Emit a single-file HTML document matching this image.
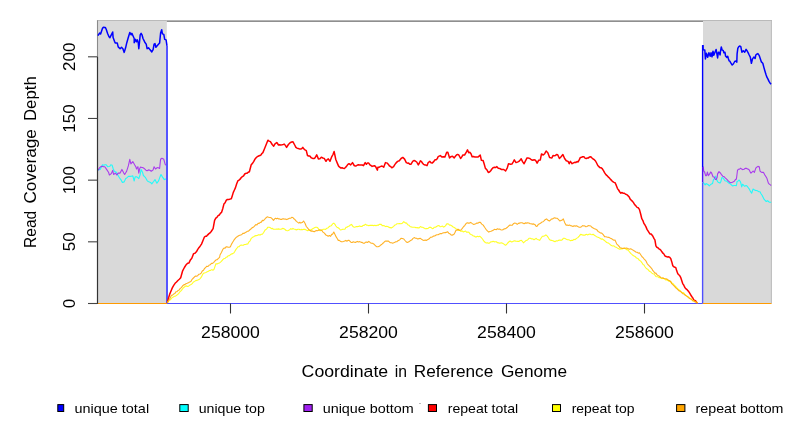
<!DOCTYPE html>
<html><head><meta charset="utf-8"><style>
html,body{margin:0;padding:0;background:#fff;}
svg{display:block;will-change:transform;}
text{font-family:"Liberation Sans",sans-serif;fill:#000;}
</style></head><body>
<svg width="792" height="432" viewBox="0 0 792 432">
<rect width="792" height="432" fill="#fff"/>
<rect x="97.5" y="20.3" width="69.3" height="283.2" fill="#d9d9d9"/>
<rect x="703" y="20.3" width="68.5" height="283.2" fill="#d9d9d9"/>
<rect x="166.8" y="20.4" width="536.2" height="1.5" fill="#838383"/>
<rect x="97.5" y="20" width="69.3" height="0.9" fill="#b5b5b5"/>
<rect x="703" y="20" width="68.8" height="0.9" fill="#b5b5b5"/>
<rect x="770.9" y="20" width="0.9" height="283.5" fill="#b5b5b5"/>
<line x1="97.5" y1="20.2" x2="97.5" y2="56.80" stroke="#8a8a8a" stroke-width="1.1"/>
<polyline points="97.9,169.9 99.1,169.6 100.2,169.4 101.3,167.2 102.5,164.8 103.7,165.2 105.0,164.8 106.2,164.8 107.6,166.7 108.8,166.5 109.9,166.2 110.8,164.8 112.2,165.3 113.1,168.5 114.5,171.8 115.9,171.8 117.3,174.1 118.7,176.5 120.1,178.7 121.2,180.2 122.4,182.4 124.2,181.9 125.6,178.7 127.0,177.6 128.4,176.4 130.0,176.4 131.4,176.3 132.8,175.9 134.2,181.0 135.1,176.9 136.9,176.9 138.8,178.7 140.2,174.5 141.1,169.4 142.5,172.2 143.4,175.5 145.3,177.3 147.1,180.6 148.2,181.5 149.4,181.9 150.6,182.4 151.8,183.8 153.6,181.5 155.0,179.6 156.9,183.3 158.7,180.6 159.8,177.4 161.0,174.5 162.4,176.9 164.3,179.6 165.3,179.0 166.3,179.2" fill="none" stroke="#00ffff" stroke-width="1.1" stroke-opacity="0.85" stroke-linejoin="round"/>
<polyline points="703.2,182.2 705.1,185.0 706.0,183.6 707.9,184.5 709.3,185.9 710.6,184.5 712.5,183.6 713.4,179.9 714.4,178.5 715.7,176.2 716.7,179.9 718.1,182.2 719.9,183.1 720.8,181.8 721.8,177.6 723.1,178.1 725.0,180.8 726.9,181.3 728.7,183.1 730.6,184.1 732.4,185.9 734.3,185.5 735.3,185.5 736.4,185.6 737.1,181.4 738.2,180.9 739.2,180.0 740.6,182.1 741.7,186.9 742.6,184.2 743.7,185.4 744.7,186.3 746.1,185.6 747.2,186.2 748.2,187.6 749.2,188.9 750.3,191.1 751.7,193.2 753.1,189.0 754.1,189.6 755.1,190.4 756.5,190.5 757.9,191.1 759.0,191.8 760.0,191.8 761.0,193.7 762.1,195.3 763.2,197.5 764.2,199.4 765.2,200.5 766.3,201.5 767.6,200.8 768.7,201.7 769.7,202.2 771.2,202.2" fill="none" stroke="#00ffff" stroke-width="1.1" stroke-opacity="0.85" stroke-linejoin="round"/>
<polyline points="97.9,170.4 99.7,167.6 100.8,166.7 102.0,166.2 103.4,166.6 104.8,166.7 106.6,169.4 108.5,172.2 109.4,175.0 111.3,173.6 112.7,170.4 113.6,174.5 115.4,173.1 116.8,175.0 118.2,173.1 120.1,173.1 121.9,169.4 123.8,173.1 124.7,174.5 126.6,171.3 128.4,165.7 129.8,159.3 130.9,163.9 132.8,161.6 134.6,164.8 136.0,167.1 136.5,169.0 137.9,166.7 138.8,173.1 139.7,168.5 140.6,167.1 141.8,167.5 143.0,167.6 144.8,169.0 145.9,170.2 147.1,170.8 148.5,169.9 149.9,170.3 151.3,171.3 153.1,169.9 154.1,166.7 155.5,169.0 156.7,168.0 157.8,167.6 159.6,168.5 160.6,159.3 161.9,158.3 163.8,159.3 165.2,164.4 166.3,165.3" fill="none" stroke="#a020f0" stroke-width="1.1" stroke-opacity="0.85" stroke-linejoin="round"/>
<polyline points="703.2,166.5 703.7,171.1 704.6,172.0 705.6,175.7 706.5,175.7 707.4,172.0 708.3,175.7 709.7,173.9 710.6,172.0 711.6,173.0 713.0,176.7 714.4,177.1 715.3,179.4 716.2,179.4 717.1,177.6 717.6,173.9 719.0,171.6 720.4,173.0 721.3,174.4 722.7,176.2 724.1,176.7 725.5,178.1 726.9,179.4 728.2,180.8 729.6,182.2 731.0,182.7 732.4,182.2 734.3,181.3 735.6,179.4 736.4,179.3 737.5,170.3 738.5,169.2 739.6,169.1 740.6,168.2 741.6,169.1 742.6,169.6 744.0,169.3 745.4,168.2 746.6,168.4 747.7,168.9 748.9,169.6 750.0,171.6 751.0,173.1 752.0,172.2 753.1,171.0 754.4,172.4 755.8,168.2 756.8,167.1 757.9,166.4 759.3,166.8 760.0,171.0 761.0,171.9 762.1,172.4 763.5,172.4 764.9,175.1 766.0,176.7 767.0,178.6 768.3,182.8 769.3,184.1 770.4,184.9 771.2,185.5" fill="none" stroke="#a020f0" stroke-width="1.1" stroke-opacity="0.85" stroke-linejoin="round"/>
<line x1="167" y1="303.5" x2="702.8" y2="303.5" stroke="#5050ff" stroke-width="1.2"/>
<polyline points="97.9,35.7 99.7,33.0 100.6,33.9 102.5,28.3 103.4,27.2 105.3,27.4 106.2,29.3 107.6,33.5 109.0,36.7 109.9,37.6 111.3,34.8 112.7,32.0 113.1,37.6 114.5,41.3 115.4,43.1 117.3,43.1 118.2,46.9 120.1,48.7 121.5,47.3 122.9,48.7 124.2,52.4 125.6,47.8 126.8,42.7 128.0,38.5 129.8,32.5 131.2,34.8 131.9,33.4 133.2,36.2 134.2,38.5 134.2,42.7 135.6,39.4 136.5,41.8 137.4,39.9 138.3,43.1 138.8,48.7 139.3,44.1 140.2,34.8 141.1,33.4 142.0,34.8 143.0,38.5 144.8,42.2 146.2,44.1 147.1,48.7 148.5,47.8 149.9,49.6 151.8,51.9 153.1,49.6 154.1,44.1 155.0,43.6 155.9,47.3 157.8,45.0 159.6,43.1 160.6,33.0 161.7,29.7 162.4,33.9 163.8,34.4 164.7,39.4 166.1,39.9 167.0,45.9" fill="none" stroke="#0000ff" stroke-width="1.5" stroke-linejoin="round"/>
<line x1="167" y1="45.9" x2="167" y2="303.5" stroke="#5555ff" stroke-width="2"/>
<polyline points="703.0,45.1 703.1,49.7 704.8,50.0 705.4,58.9 706.4,53.3 707.7,57.3 708.9,52.8 710.2,56.3 711.0,52.8 712.0,56.8 713.0,51.2 713.8,55.3 714.8,52.8 716.1,49.4 717.6,57.9 718.4,52.2 719.0,52.2 720.1,54.9 720.4,51.8 721.3,46.9 722.2,50.1 723.2,50.4 723.9,52.8 724.9,52.2 725.6,56.0 726.7,57.4 727.7,56.3 728.4,58.8 729.1,60.8 729.8,61.2 730.8,62.9 732.2,65.0 733.3,64.0 734.7,61.5 736.1,60.8 736.8,62.2 737.1,53.9 737.8,48.3 738.8,46.6 739.9,46.0 740.8,46.7 741.9,52.2 743.3,50.8 744.7,52.2 746.1,49.4 747.2,51.0 748.2,52.9 749.2,55.0 750.3,57.1 751.4,63.3 752.4,59.2 753.8,57.1 755.1,58.5 755.8,55.0 756.8,54.2 757.9,53.6 759.3,55.7 760.3,58.7 761.4,61.9 762.8,63.3 763.8,67.1 764.9,71.0 765.9,74.3 766.9,77.2 768.0,79.1 769.0,81.4 770.0,82.9 771.1,84.2" fill="none" stroke="#0000ff" stroke-width="1.5" stroke-linejoin="round"/>
<line x1="702.6" y1="45.1" x2="702.6" y2="167" stroke="#0000ff" stroke-width="1.4"/>
<line x1="702.6" y1="167" x2="702.6" y2="182.5" stroke="#4a10f8" stroke-width="1.4"/>
<line x1="702.6" y1="182.5" x2="702.6" y2="303.5" stroke="#4f4fff" stroke-width="1.4"/>
<polyline points="167.3,302.7 168.4,298.2 169.6,294.4 170.9,291.2 172.3,287.9 173.7,285.4 175.1,283.3 176.5,282.0 177.9,280.5 179.3,279.3 180.7,277.7 182.5,271.2 184.4,267.5 186.2,264.7 187.6,263.2 189.0,262.9 190.4,259.9 191.8,258.3 193.6,253.6 195.0,253.2 196.4,251.8 197.6,249.6 198.9,247.7 200.1,246.2 201.5,244.1 202.9,240.7 204.4,237.0 205.4,236.3 206.5,236.2 207.5,235.1 208.7,233.9 210.0,232.9 211.2,231.5 213.1,228.6 214.6,220.3 215.8,218.2 216.9,217.4 218.1,215.6 219.3,215.0 220.4,213.4 221.6,212.2 222.8,208.5 223.9,204.1 225.1,202.8 226.2,200.4 227.4,199.4 228.7,199.6 230.0,199.1 231.3,198.8 232.3,195.7 233.3,192.4 234.3,190.2 235.5,187.6 236.6,184.0 237.8,180.9 239.0,180.1 240.1,179.2 241.3,177.5 242.4,176.6 243.6,175.8 244.7,174.0 245.9,173.3 247.1,173.3 248.2,172.2 249.4,171.7 251.2,164.7 252.5,163.4 253.8,161.4 255.1,158.9 256.3,157.5 257.4,156.7 258.6,156.0 259.8,155.5 260.8,155.2 261.9,153.5 262.9,152.6 264.6,148.5 266.4,143.9 267.9,140.2 269.1,141.1 270.4,141.6 272.2,144.5 273.7,146.2 275.0,143.9 276.8,142.5 278.5,145.0 279.6,144.7 280.8,145.0 282.0,144.8 283.1,144.5 284.3,144.1 285.5,145.6 286.6,147.4 288.4,144.5 290.1,142.7 291.6,142.0 293.0,141.8 294.7,145.0 295.9,147.4 297.0,148.1 298.2,148.5 299.4,148.9 300.5,149.1 301.6,148.8 302.8,147.4 304.6,149.7 306.3,150.6 307.5,155.5 308.6,156.0 309.8,156.0 311.2,157.8 312.7,158.4 313.9,158.6 315.0,157.8 316.7,154.9 318.4,158.9 319.9,158.7 321.3,157.2 322.8,158.0 324.2,158.4 326.0,161.3 327.1,159.6 328.3,158.9 330.0,161.3 331.8,156.6 333.0,154.5 334.1,151.4 335.8,159.5 337.5,163.6 338.6,166.1 339.7,167.2 340.9,168.1 342.1,167.8 343.2,168.2 344.4,168.4 345.5,167.5 346.7,166.0 347.9,164.4 349.0,163.7 350.7,164.9 352.5,162.6 354.2,165.5 355.4,166.1 356.5,165.7 358.3,164.7 359.7,164.9 361.1,164.9 362.3,165.0 363.5,165.7 365.2,162.6 366.4,164.3 367.5,163.1 368.7,163.1 369.9,164.8 371.0,165.5 372.1,166.4 373.3,166.0 374.5,165.7 375.6,166.6 377.4,170.1 377.9,167.2 379.0,167.3 380.2,166.6 382.0,166.0 383.7,167.2 385.5,162.6 387.2,163.1 388.4,164.4 389.5,166.0 390.6,166.4 391.8,167.8 393.6,166.6 394.8,164.6 395.9,163.1 397.6,161.4 399.3,160.8 401.1,158.5 402.8,157.4 404.6,159.1 406.3,162.6 407.5,163.2 408.6,163.1 409.8,164.2 410.9,164.3 412.7,161.4 413.9,160.5 415.0,160.8 416.7,162.0 418.3,164.9 419.4,163.0 420.4,160.8 421.4,161.3 422.4,163.1 423.5,164.3 424.7,164.9 425.9,165.1 427.0,165.7 428.2,162.6 429.9,161.4 431.0,162.8 432.2,163.1 433.9,161.4 435.1,159.7 436.2,159.8 437.4,158.5 438.0,156.8 439.1,156.2 440.3,155.6 441.8,156.9 443.2,156.8 444.9,157.1 446.7,152.2 447.8,152.2 449.6,157.9 450.7,156.8 452.5,156.2 454.2,157.9 455.4,156.2 456.5,155.0 457.6,154.4 458.8,155.0 460.6,158.5 461.8,156.9 462.9,155.0 464.6,155.0 466.3,152.2 467.5,149.8 468.7,152.7 469.8,152.2 471.0,153.8 472.1,156.8 473.6,156.5 475.0,157.1 476.4,157.0 477.9,157.1 479.0,156.2 480.2,155.0 481.4,160.3 483.1,160.6 484.2,164.0 485.4,168.4 486.9,169.8 488.3,172.4 489.5,172.1 490.7,170.7 491.9,169.0 493.0,167.8 494.7,167.2 495.8,167.5 496.9,166.6 498.0,168.1 499.2,168.4 500.4,168.8 501.5,169.5 502.6,169.4 503.8,169.5 505.6,171.0 507.3,167.8 508.5,163.7 509.6,163.9 510.8,164.2 511.9,164.1 513.1,162.1 514.3,159.9 516.0,162.6 517.5,162.1 518.9,161.4 520.0,160.3 521.2,158.8 522.7,161.9 524.1,163.7 525.5,160.8 527.0,157.9 528.5,158.1 529.9,158.5 531.3,159.7 532.8,160.3 534.0,159.7 535.1,159.9 536.1,161.2 537.1,163.1 538.6,160.3 540.3,159.9 541.5,153.9 543.2,155.0 544.7,153.7 546.1,151.0 547.8,152.7 549.6,157.4 550.8,157.7 551.9,157.9 553.0,155.6 554.1,155.7 555.3,155.6 556.5,154.5 557.7,154.8 559.4,158.5 561.1,156.8 562.9,154.5 564.6,158.5 566.3,160.8 568.1,161.4 569.2,163.7 570.4,161.4 572.1,163.7 574.0,162.6 575.0,162.3 576.0,162.4 577.1,161.5 578.1,162.0 579.2,159.9 580.4,157.4 581.5,157.2 582.7,156.7 583.9,156.7 585.0,158.1 586.2,158.5 587.4,158.0 588.5,157.9 589.6,156.9 590.8,156.7 592.0,158.0 593.1,159.0 594.3,159.7 595.5,161.0 596.6,163.0 597.8,165.5 598.9,166.6 600.1,167.8 601.2,167.7 602.4,168.9 603.6,170.8 604.7,172.9 605.9,174.7 607.0,175.6 608.2,176.9 609.4,178.0 610.5,179.4 611.6,180.4 612.8,181.7 614.0,182.4 615.1,182.8 616.3,185.4 617.5,188.6 618.6,190.0 619.8,192.0 620.9,193.2 622.1,192.5 623.2,193.3 624.4,193.2 625.6,194.3 626.7,194.5 627.9,195.6 629.0,196.7 630.2,199.1 631.3,200.2 632.5,201.4 633.6,202.8 634.8,204.8 635.9,205.9 637.1,207.4 638.2,207.7 639.4,209.4 640.6,213.8 641.8,218.7 642.9,220.6 643.9,223.4 645.0,225.0 646.0,226.9 647.0,229.4 648.0,230.9 649.9,233.9 650.9,233.9 651.9,234.9 652.9,236.3 653.9,238.4 654.9,239.9 655.9,245.8 656.9,247.3 657.9,247.7 658.9,248.8 659.9,249.4 660.9,250.3 661.9,251.8 662.9,253.2 663.9,254.0 664.9,255.8 666.2,256.6 667.5,256.9 668.8,256.8 669.8,257.4 670.8,258.8 671.8,261.9 672.8,265.7 673.8,266.8 674.8,267.2 675.8,267.7 676.8,271.1 677.8,273.7 678.8,274.8 679.8,275.8 680.8,277.7 682.7,283.6 683.7,285.0 684.7,287.3 685.7,288.6 686.7,289.3 687.7,290.4 688.7,291.6 689.7,293.1 690.7,294.8 691.7,296.5 692.7,297.7 693.7,299.8 694.7,300.5 695.7,301.0 696.7,302.5 697.5,303.2" fill="none" stroke="#ff0000" stroke-width="1.5" stroke-linejoin="round"/>
<polyline points="167.3,302.7 168.3,301.4 169.3,300.4 170.3,299.8 171.3,298.6 172.3,297.5 173.3,297.1 174.4,296.2 175.5,296.1 176.6,295.2 177.7,294.5 178.8,293.4 179.9,291.8 181.0,290.9 182.2,289.3 183.3,287.9 184.4,287.0 185.5,286.1 186.6,285.9 187.7,286.4 188.8,285.9 189.9,285.1 191.1,284.5 192.2,283.6 193.4,282.0 194.6,281.4 195.7,280.6 196.8,280.4 197.9,280.0 199.0,279.6 200.1,278.6 201.3,277.2 202.6,274.4 203.8,273.1 205.0,272.8 206.1,272.4 207.2,271.7 208.4,271.2 209.5,270.5 210.6,270.4 211.8,269.6 212.9,270.3 214.0,269.4 215.9,263.8 217.1,263.9 218.4,263.3 219.6,262.9 221.4,261.3 222.8,259.7 224.2,258.5 225.2,258.3 226.2,257.2 227.3,256.9 228.3,255.7 229.4,255.6 230.5,254.6 231.7,253.9 232.8,253.6 233.9,252.9 234.9,251.3 236.0,249.4 237.1,248.0 238.1,246.7 239.1,246.7 240.1,245.5 241.2,245.1 242.2,245.3 243.3,245.2 244.4,244.5 245.6,244.5 246.7,244.1 247.8,243.9 249.0,241.8 250.1,240.8 251.3,238.3 252.5,237.3 253.7,236.8 254.9,235.9 256.1,235.6 257.2,235.5 258.2,234.9 259.2,234.7 260.3,235.0 261.3,234.2 262.4,234.2 263.8,232.2 265.1,230.0 266.5,229.1 267.9,227.2 269.1,227.2 270.2,227.6 271.4,228.6 272.4,228.4 273.5,229.3 274.6,229.3 275.6,229.3 276.7,229.0 277.8,229.1 278.9,228.9 280.0,229.3 281.1,229.3 282.5,228.4 283.9,228.6 285.1,229.5 286.2,230.5 287.4,230.7 288.5,230.5 289.7,229.6 290.8,228.6 291.9,229.3 292.9,228.4 293.9,228.9 295.0,229.3 296.0,229.9 297.0,229.6 298.0,229.3 299.1,229.2 300.2,229.8 301.4,229.4 302.5,229.7 303.6,229.3 304.6,229.4 305.6,229.6 306.7,230.3 307.7,230.7 308.8,229.9 309.8,229.9 310.8,230.2 311.9,229.3 313.1,228.6 314.4,227.7 315.6,227.2 316.8,227.2 317.9,228.0 319.1,229.9 320.2,230.7 321.2,230.2 322.3,229.7 323.3,229.2 324.4,229.3 325.6,229.4 326.7,228.3 327.9,227.9 329.0,226.8 330.2,226.0 331.3,225.8 332.6,223.9 333.8,223.1 334.8,224.1 335.9,226.0 336.9,227.2 338.1,227.7 339.2,228.5 340.4,230.0 341.5,229.8 342.7,229.2 343.8,229.3 344.9,229.2 345.9,227.4 346.9,227.2 348.0,226.5 349.2,226.1 350.3,225.0 351.5,224.4 352.9,226.4 354.3,227.2 355.3,227.0 356.4,226.5 357.4,226.6 358.4,226.5 359.6,225.9 360.7,226.4 361.9,226.5 363.1,225.4 364.2,225.4 365.4,224.2 366.5,225.1 367.7,225.3 368.8,225.8 370.0,225.2 371.2,225.4 372.5,225.3 373.7,225.6 374.9,225.3 376.0,225.8 377.1,225.1 378.1,225.5 379.1,224.3 380.2,224.4 381.2,224.2 382.2,225.6 383.3,225.5 384.3,225.8 385.5,226.6 386.6,226.2 387.8,226.5 389.0,227.4 390.1,227.6 391.3,227.9 392.5,227.3 393.6,226.3 394.8,225.1 395.9,224.7 397.1,223.7 398.2,223.8 399.6,223.5 401.0,223.8 402.4,223.2 403.8,221.7 405.2,222.9 406.6,223.1 407.7,224.7 408.9,225.2 410.0,226.5 411.2,226.9 412.4,227.2 413.7,227.2 414.9,227.2 415.9,227.8 417.0,227.6 418.1,227.9 419.1,227.9 420.4,226.5 421.6,227.2 422.7,227.2 423.9,227.9 425.3,228.8 426.7,228.6 428.1,228.4 429.5,227.2 430.9,227.4 432.3,228.6 433.3,228.5 434.3,227.2 435.5,227.3 436.6,226.5 437.8,225.8 439.0,225.5 440.1,226.7 441.3,226.5 442.5,226.1 443.6,227.1 444.8,226.5 445.8,225.4 446.8,223.8 448.2,223.9 449.6,225.1 450.6,225.1 451.7,225.8 452.8,226.7 453.8,227.2 455.0,228.0 456.3,228.9 457.5,229.3 458.6,230.5 459.8,230.4 460.9,231.4 462.1,230.8 463.2,231.9 464.4,231.4 465.6,231.0 466.7,232.3 467.9,232.1 468.9,232.3 470.0,233.9 471.1,234.5 472.1,234.9 473.1,235.9 474.1,236.0 475.2,236.9 476.2,236.9 477.4,236.3 478.5,236.7 479.7,236.3 481.1,237.4 482.5,239.0 483.9,241.2 485.3,242.5 486.3,243.0 487.4,242.8 488.4,243.1 489.4,243.2 490.8,241.9 492.2,241.8 493.2,241.2 494.3,241.9 495.3,241.8 496.4,241.8 497.5,242.7 498.7,242.9 499.8,243.2 501.2,242.8 502.6,243.2 504.0,244.1 505.4,245.3 506.6,244.5 507.7,243.0 508.9,241.8 510.1,241.0 511.3,241.9 512.5,241.7 513.7,241.1 514.8,240.7 515.8,241.3 516.9,241.2 517.9,241.4 519.1,241.4 520.2,240.5 521.4,240.4 522.4,241.3 523.4,242.8 524.8,241.6 526.2,240.4 527.6,239.9 529.0,238.3 530.4,238.2 531.8,239.0 532.9,238.9 534.0,239.7 535.1,239.1 536.2,238.3 537.3,239.5 538.5,239.7 539.6,240.4 541.0,238.3 542.4,236.3 543.6,236.3 544.7,235.7 545.9,234.9 547.3,236.1 548.7,238.3 549.8,239.8 550.8,240.4 551.9,240.4 553.1,240.8 554.2,241.4 555.2,241.6 556.3,240.8 557.4,241.0 558.4,240.4 559.8,240.0 561.2,240.4 562.2,239.8 563.3,238.3 564.3,238.3 565.3,238.6 566.4,239.3 567.4,239.7 568.5,239.7 569.5,240.1 570.5,240.7 571.6,240.4 572.8,240.4 573.9,239.3 575.1,239.7 576.5,238.4 577.8,237.6 579.2,236.1 580.6,234.4 581.6,234.6 582.7,235.1 583.8,235.1 584.8,235.3 585.8,234.5 586.8,234.4 587.9,234.9 588.9,234.2 590.0,234.0 591.0,234.5 592.0,234.8 593.1,234.2 594.1,235.0 595.2,235.8 596.2,236.4 597.3,236.9 598.6,237.4 600.0,238.3 601.1,239.1 602.3,238.9 603.8,240.0 605.2,241.2 606.7,242.5 608.1,242.9 609.5,243.9 611.0,245.3 612.5,246.0 613.9,245.8 615.3,247.0 616.8,247.6 618.2,248.6 619.7,249.3 621.2,248.9 622.6,248.7 624.0,248.3 625.5,248.7 626.6,249.6 627.8,249.9 629.2,251.5 630.7,253.4 632.2,254.7 633.6,255.7 635.0,256.4 636.5,258.0 638.0,258.6 639.4,260.3 640.7,261.1 642.0,262.8 643.0,264.5 644.0,265.0 645.0,266.7 646.3,268.5 647.6,269.2 648.9,270.7 649.9,271.5 650.9,272.0 651.9,273.1 652.9,273.7 653.9,274.0 654.9,275.1 655.9,276.5 656.9,276.7 657.9,276.7 658.9,277.6 659.9,277.6 660.9,278.0 661.9,278.6 663.1,278.3 664.3,278.5 665.6,279.9 666.8,279.6 667.8,280.5 668.8,281.0 669.8,281.5 670.8,281.6 671.8,283.1 672.8,283.2 673.8,284.7 674.8,285.6 675.8,286.6 676.8,287.7 677.8,289.1 678.8,289.6 680.1,290.9 681.4,292.2 682.7,292.6 683.7,292.9 684.7,294.3 685.7,295.2 686.7,296.0 687.7,296.5 688.7,297.4 689.7,298.4 690.7,298.5 691.7,299.5 692.7,300.6 693.7,300.6 694.7,301.4 695.7,301.9 697.5,303.2" fill="none" stroke="#ffff00" stroke-width="1.1" stroke-opacity="0.85" stroke-linejoin="round"/>
<polyline points="167.3,302.7 168.3,301.0 169.4,299.3 170.4,297.5 171.4,295.3 172.5,295.1 173.6,294.1 174.8,293.6 175.9,291.8 177.0,291.6 178.1,290.4 179.2,289.9 180.3,288.4 181.4,287.6 182.5,286.0 183.7,284.9 184.8,284.6 185.9,283.7 187.1,283.3 188.4,282.7 189.6,282.1 190.9,281.4 192.1,279.3 193.4,278.0 194.6,276.8 195.7,276.0 196.8,276.2 197.9,275.4 199.0,274.2 200.1,274.0 201.2,273.1 202.3,271.0 203.5,270.2 204.6,268.4 205.7,267.5 206.8,266.2 208.0,266.5 209.2,265.1 210.3,264.7 211.5,263.4 212.6,263.4 213.8,262.4 214.9,261.0 216.1,259.8 217.2,259.7 218.4,258.3 219.6,257.3 220.0,255.0 221.4,252.4 222.8,249.4 224.0,248.1 225.1,248.1 226.3,246.7 227.3,246.9 228.4,247.3 229.4,247.2 230.4,246.7 231.4,244.4 232.5,242.5 233.9,240.2 235.3,238.3 236.4,237.2 237.5,236.5 238.6,235.7 239.7,235.3 240.8,234.9 241.9,234.5 243.0,233.2 244.2,233.4 245.3,232.5 246.4,232.1 247.4,231.2 248.5,231.1 249.6,230.0 250.6,229.3 251.6,228.2 252.6,227.5 253.7,226.9 254.7,225.8 255.8,224.6 256.9,225.0 258.1,223.2 259.2,223.4 260.3,222.4 261.3,222.1 262.4,220.4 263.4,220.6 264.4,219.6 265.8,218.0 267.2,216.8 268.6,217.2 270.0,217.5 271.2,217.8 272.3,218.8 273.5,220.3 274.6,218.9 275.6,218.2 276.6,218.9 277.6,218.2 278.7,219.0 279.7,218.9 280.8,219.4 281.8,219.4 282.8,218.7 283.9,218.9 285.3,219.1 286.7,219.6 288.0,218.9 289.4,218.2 290.6,218.3 291.7,217.3 292.9,217.5 293.9,218.8 295.0,219.6 296.4,221.4 297.8,222.4 298.8,223.1 299.8,222.3 300.8,223.1 302.2,222.6 303.6,221.0 305.0,223.3 306.3,226.5 307.7,228.1 309.1,230.0 310.2,230.5 311.2,231.2 312.2,230.9 313.3,231.4 314.3,231.7 315.4,231.1 316.4,230.6 317.4,230.7 318.6,230.2 319.7,229.8 320.9,230.0 321.9,230.5 323.0,232.1 324.4,233.1 325.8,234.9 327.0,235.5 328.2,236.2 329.4,235.5 330.6,236.3 331.7,234.4 332.7,234.1 333.8,232.1 335.0,234.5 336.2,236.9 337.2,238.5 338.3,240.4 339.3,240.4 340.4,241.2 341.4,241.8 342.4,241.8 343.5,241.5 344.6,241.1 345.8,240.4 346.9,241.2 348.0,240.4 349.1,240.4 350.1,241.4 351.1,242.4 352.2,242.5 353.3,241.8 354.4,242.3 355.5,242.4 356.6,241.8 357.7,241.4 358.8,242.1 359.9,241.6 361.1,242.4 362.2,242.4 363.3,243.2 364.4,243.3 365.5,242.2 366.6,242.1 367.7,242.4 368.8,241.4 370.0,242.4 371.2,243.2 372.5,243.2 373.7,243.9 375.1,245.3 376.5,246.7 378.1,246.7 379.3,246.3 380.4,245.3 381.6,244.6 382.6,243.5 383.6,242.7 384.7,241.6 385.7,241.1 387.1,241.0 388.5,241.1 389.6,242.2 390.6,242.7 391.6,242.8 392.7,243.2 393.7,242.8 394.8,242.3 395.8,241.7 396.8,241.8 397.9,240.7 398.9,240.4 399.9,239.6 401.0,238.3 402.4,238.5 403.8,239.0 405.0,240.5 406.1,241.7 407.3,242.5 408.4,242.0 409.6,241.3 410.7,240.4 411.9,239.8 413.0,238.4 414.2,237.6 415.4,238.3 416.5,238.3 417.7,239.0 419.0,238.6 420.4,238.3 421.6,239.3 422.7,239.9 423.9,240.4 425.1,239.9 426.2,240.5 427.4,239.7 428.4,239.3 429.5,238.5 430.6,237.2 431.6,237.2 432.6,236.8 433.6,236.0 434.7,236.0 435.7,235.3 436.9,234.8 438.1,234.8 439.4,234.1 440.6,233.5 441.8,233.6 442.9,232.9 444.1,232.8 445.2,232.6 446.4,232.4 447.5,231.7 448.7,233.2 449.8,233.7 451.0,234.9 452.0,235.1 453.0,234.9 454.0,234.2 455.1,232.3 456.1,230.0 457.1,230.2 458.2,229.3 459.5,230.2 460.9,230.0 462.3,228.3 463.7,226.5 464.9,225.3 466.0,223.6 467.2,222.8 468.4,223.1 469.5,223.1 470.7,222.4 472.0,223.4 473.4,224.4 474.6,224.2 475.7,223.8 476.9,223.1 478.1,223.1 479.2,222.2 480.4,222.4 481.8,224.1 483.2,225.1 484.6,227.3 486.0,229.3 487.4,230.9 488.7,232.1 489.9,231.5 491.0,231.3 492.2,230.7 493.2,230.3 494.3,229.3 495.3,229.5 496.4,229.6 497.4,228.7 498.4,229.3 499.6,229.1 500.7,229.7 501.9,230.0 502.9,229.8 504.0,228.8 505.1,228.9 506.1,228.3 507.5,227.2 508.9,225.8 510.0,225.0 511.2,225.3 512.3,225.1 513.3,223.8 514.4,223.1 515.8,223.2 517.2,224.4 518.4,223.4 519.5,223.1 520.7,222.8 521.8,222.8 523.0,223.1 524.1,223.8 525.3,222.9 526.4,223.1 527.6,222.8 528.8,223.0 529.9,223.6 531.1,223.8 532.3,224.1 533.6,223.9 534.8,224.4 535.8,225.9 536.9,226.5 538.2,224.6 539.6,223.8 540.8,223.0 541.9,222.1 543.1,221.7 544.3,220.7 545.4,219.4 546.6,218.9 548.0,220.3 549.4,221.0 550.4,220.1 551.5,219.0 552.5,219.0 553.5,218.2 554.7,217.7 555.8,218.3 557.0,218.2 558.4,219.4 559.8,221.0 561.0,220.4 562.1,220.1 563.3,218.9 564.6,222.4 566.0,225.1 567.2,225.0 568.3,225.5 569.5,225.1 570.7,225.7 571.8,225.9 573.0,226.5 574.1,225.8 575.3,226.1 576.4,225.8 577.8,226.6 579.2,227.2 580.4,227.2 581.5,226.7 582.7,225.6 583.8,226.0 584.8,225.9 585.9,226.7 586.9,226.5 588.2,225.6 589.6,225.8 590.8,226.0 591.9,227.3 593.1,227.9 594.5,228.7 595.9,229.3 597.0,229.9 598.0,231.4 599.2,232.1 600.5,233.0 601.7,233.1 603.2,234.7 604.6,236.6 606.0,236.8 607.5,237.2 609.0,237.4 610.4,238.3 611.5,238.6 612.7,239.5 613.9,240.3 615.0,240.0 616.8,244.1 618.0,245.1 619.1,246.4 620.2,247.8 621.4,248.1 622.8,248.6 624.3,248.1 625.5,248.3 626.6,248.1 627.8,248.5 629.2,249.2 630.7,248.7 632.2,249.6 633.6,250.5 634.8,251.2 635.9,252.2 637.1,252.2 638.2,253.2 639.4,252.8 640.7,254.8 642.0,256.8 643.0,257.5 644.0,258.8 645.0,259.8 646.0,261.0 647.0,263.2 648.0,264.7 649.5,266.1 650.9,267.7 651.9,268.8 652.9,270.7 653.9,271.7 654.9,273.1 655.9,273.1 656.9,274.7 657.9,275.4 658.9,275.8 659.9,276.7 660.9,277.7 661.9,278.0 662.9,277.8 663.9,278.6 665.2,278.7 666.5,278.9 667.8,279.6 668.8,280.7 669.8,280.6 670.8,281.9 671.8,283.6 672.8,284.7 673.8,285.6 674.8,286.6 675.8,287.8 676.8,288.7 677.8,289.6 679.1,290.9 680.4,291.1 681.7,292.6 682.7,293.6 683.7,293.8 684.7,294.8 685.7,295.5 686.7,296.1 687.7,296.8 688.7,297.8 689.7,298.5 690.7,299.1 691.7,299.6 692.7,300.7 693.7,301.1 694.7,301.7 695.7,301.5 696.7,302.5 697.5,303.2" fill="none" stroke="#ffa500" stroke-width="1.1" stroke-opacity="0.85" stroke-linejoin="round"/>
<line x1="97.5" y1="303.5" x2="167" y2="303.5" stroke="#ff9a00" stroke-width="1.2"/>
<line x1="702.8" y1="303.5" x2="771.5" y2="303.5" stroke="#ff9a00" stroke-width="1.2"/>
<line x1="97.5" y1="56.80" x2="97.5" y2="304" stroke="#333" stroke-width="1.2"/>
<line x1="88" y1="303.50" x2="97.5" y2="303.50" stroke="#444" stroke-width="1.1"/>
<text x="75.3" y="303.50" transform="rotate(-90 75.3 303.50)" text-anchor="middle" font-size="17">0</text>
<line x1="88" y1="241.82" x2="97.5" y2="241.82" stroke="#444" stroke-width="1.1"/>
<text x="75.3" y="241.82" transform="rotate(-90 75.3 241.82)" text-anchor="middle" font-size="17">50</text>
<line x1="88" y1="180.15" x2="97.5" y2="180.15" stroke="#444" stroke-width="1.1"/>
<text x="75.3" y="180.15" transform="rotate(-90 75.3 180.15)" text-anchor="middle" font-size="17">100</text>
<line x1="88" y1="118.47" x2="97.5" y2="118.47" stroke="#444" stroke-width="1.1"/>
<text x="75.3" y="118.47" transform="rotate(-90 75.3 118.47)" text-anchor="middle" font-size="17">150</text>
<line x1="88" y1="56.80" x2="97.5" y2="56.80" stroke="#444" stroke-width="1.1"/>
<text x="75.3" y="56.80" transform="rotate(-90 75.3 56.80)" text-anchor="middle" font-size="17">200</text>
<line x1="230.50" y1="303.5" x2="230.50" y2="313.5" stroke="#333" stroke-width="1.1"/>
<text x="201.10" y="338.20" font-size="17" textLength="58.80" lengthAdjust="spacingAndGlyphs">258000</text>
<line x1="368.50" y1="303.5" x2="368.50" y2="313.5" stroke="#333" stroke-width="1.1"/>
<text x="339.10" y="338.20" font-size="17" textLength="58.80" lengthAdjust="spacingAndGlyphs">258200</text>
<line x1="506.50" y1="303.5" x2="506.50" y2="313.5" stroke="#333" stroke-width="1.1"/>
<text x="477.10" y="338.20" font-size="17" textLength="58.80" lengthAdjust="spacingAndGlyphs">258400</text>
<line x1="644.50" y1="303.5" x2="644.50" y2="313.5" stroke="#333" stroke-width="1.1"/>
<text x="615.10" y="338.20" font-size="17" textLength="58.80" lengthAdjust="spacingAndGlyphs">258600</text>
<text x="301.60" y="376.80" font-size="17.2" textLength="86.60" lengthAdjust="spacingAndGlyphs">Coordinate</text>
<text x="394.80" y="376.80" font-size="17.2" textLength="12.21" lengthAdjust="spacingAndGlyphs">in</text>
<text x="413.80" y="376.80" font-size="17.2" textLength="79.50" lengthAdjust="spacingAndGlyphs">Reference</text>
<text x="500.90" y="376.80" font-size="17.2" textLength="66.21" lengthAdjust="spacingAndGlyphs">Genome</text>
<text x="0.00" y="0" transform="translate(36.10 247.90) rotate(-90)" font-size="17.2" textLength="37.09" lengthAdjust="spacingAndGlyphs">Read</text>
<text x="0.00" y="0" transform="translate(36.10 203.50) rotate(-90)" font-size="17.2" textLength="74.30" lengthAdjust="spacingAndGlyphs">Coverage</text>
<text x="0.00" y="0" transform="translate(36.10 121.10) rotate(-90)" font-size="17.2" textLength="44.91" lengthAdjust="spacingAndGlyphs">Depth</text>
<rect x="57.8" y="404.6" width="5.9" height="6.9" fill="#0000ff" stroke="#000" stroke-width="1"/>
<text x="74.5" y="412.8" font-size="13" textLength="74.6" lengthAdjust="spacingAndGlyphs">unique total</text>
<rect x="179.8" y="404.6" width="8.4" height="6.9" fill="#00ffff" stroke="#000" stroke-width="1"/>
<text x="198.7" y="412.8" font-size="13" textLength="66.1" lengthAdjust="spacingAndGlyphs">unique top</text>
<rect x="303.9" y="404.6" width="8.3" height="6.9" fill="#a020f0" stroke="#000" stroke-width="1"/>
<text x="322.7" y="412.8" font-size="13" textLength="90.9" lengthAdjust="spacingAndGlyphs">unique bottom</text>
<rect x="428.4" y="404.6" width="8.1" height="6.9" fill="#ff0000" stroke="#000" stroke-width="1"/>
<text x="447.7" y="412.8" font-size="13" textLength="70.5" lengthAdjust="spacingAndGlyphs">repeat total</text>
<rect x="552.5" y="404.6" width="8.0" height="6.9" fill="#ffff00" stroke="#000" stroke-width="1"/>
<text x="571.7" y="412.8" font-size="13" textLength="62.7" lengthAdjust="spacingAndGlyphs">repeat top</text>
<rect x="676.6" y="404.6" width="8.3" height="6.9" fill="#ffa500" stroke="#000" stroke-width="1"/>
<text x="695.6" y="412.8" font-size="13" textLength="87.9" lengthAdjust="spacingAndGlyphs">repeat bottom</text>
<rect x="419" y="403" width="2" height="1" fill="#bdbdbd"/>
</svg>
</body></html>
